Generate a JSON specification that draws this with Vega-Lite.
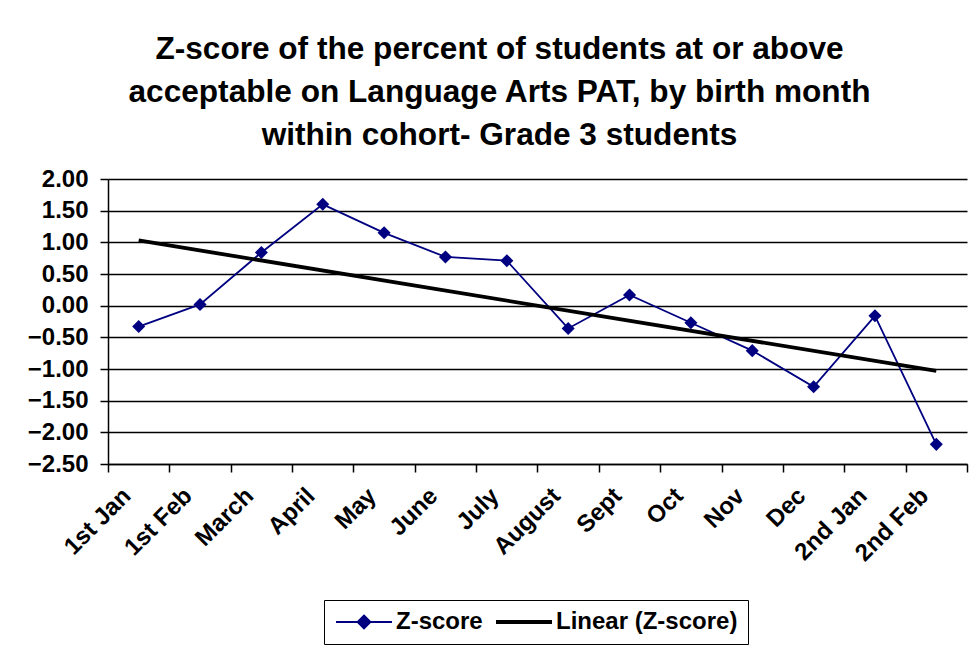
{
  "$schema": "https://vega.github.io/schema/vega-lite/v6.json",
  "width": 859,
  "height": 285,
  "autosize": "none",
  "padding": {"left": 108, "top": 179, "right": 7, "bottom": 182},
  "background": "white",
  "config": {
    "font": "Liberation Sans",
    "view": {"stroke": null},
    "axis": {"labelFont": "Liberation Sans", "labelFontWeight": "bold", "labelColor": "black", "domainColor": "black", "tickColor": "black", "gridColor": "black"}
  },
  "title": {
    "text": ["Z-score of the percent of students at or above", "acceptable on Language Arts PAT, by birth month", "within cohort- Grade 3 students"],
    "font": "Liberation Sans",
    "fontSize": 31.6,
    "fontWeight": "bold",
    "color": "black",
    "lineHeight": 43,
    "anchor": "middle",
    "frame": "group",
    "dx": -38,
    "offset": 15
  },
  "datasets": {
    "lines": [
      {"month": "1st Jan", "value": -0.33, "series": "Z-score"},
      {"month": "1st Feb", "value": 0.02, "series": "Z-score"},
      {"month": "March", "value": 0.84, "series": "Z-score"},
      {"month": "April", "value": 1.60, "series": "Z-score"},
      {"month": "May", "value": 1.15, "series": "Z-score"},
      {"month": "June", "value": 0.77, "series": "Z-score"},
      {"month": "July", "value": 0.71, "series": "Z-score"},
      {"month": "August", "value": -0.36, "series": "Z-score"},
      {"month": "Sept", "value": 0.17, "series": "Z-score"},
      {"month": "Oct", "value": -0.27, "series": "Z-score"},
      {"month": "Nov", "value": -0.71, "series": "Z-score"},
      {"month": "Dec", "value": -1.28, "series": "Z-score"},
      {"month": "2nd Jan", "value": -0.16, "series": "Z-score"},
      {"month": "2nd Feb", "value": -2.19, "series": "Z-score"},
      {"month": "1st Jan", "value": 1.03, "series": "Linear (Z-score)"},
      {"month": "2nd Feb", "value": -1.03, "series": "Linear (Z-score)"}
    ]
  },
  "data": {"name": "lines"},
  "encoding": {
    "x": {
      "field": "month",
      "type": "nominal",
      "sort": ["1st Jan", "1st Feb", "March", "April", "May", "June", "July", "August", "Sept", "Oct", "Nov", "Dec", "2nd Jan", "2nd Feb"],
      "scale": {"type": "band", "paddingInner": 0, "paddingOuter": 0},
      "axis": {
        "title": null,
        "labelAngle": -45,
        "labelAlign": "right",
        "labelBaseline": "middle",
        "labelFontSize": 24,
        "labelPadding": 20,
        "labelOffset": -12,
        "tickBand": "extent",
        "tickSize": 8,
        "tickWidth": 1.5,
        "domainWidth": 1.5,
        "grid": false
      }
    },
    "y": {
      "field": "value",
      "type": "quantitative",
      "scale": {"domain": [-2.5, 2], "nice": false, "zero": false},
      "axis": {
        "title": null,
        "values": [-2.5, -2, -1.5, -1, -0.5, 0, 0.5, 1, 1.5, 2],
        "format": ".2f",
        "labelFontSize": 24,
        "labelPadding": 12,
        "tickSize": 8,
        "tickWidth": 1.5,
        "domainWidth": 1.5,
        "grid": true,
        "gridWidth": 1.5,
        "gridOpacity": 1
      }
    }
  },
  "layer": [
    {
      "mark": {"type": "line"},
      "encoding": {
        "color": {
          "field": "series",
          "type": "nominal",
          "scale": {"domain": ["Z-score", "Linear (Z-score)"], "range": ["#000080", "#000000"]},
          "legend": {
            "title": null,
            "orient": "none",
            "legendX": 216,
            "legendY": 421,
            "direction": "horizontal",
            "strokeColor": "black",
            "padding": 10,
            "labelFont": "Liberation Sans",
            "labelFontSize": 24,
            "labelFontWeight": "bold",
            "labelColor": "black",
            "labelLimit": 400,
            "labelOffset": 38,
            "columnPadding": 5,
            "symbolSize": 400,
            "symbolStrokeWidth": 2.5,
            "encode": {
              "symbols": {
                "update": {
                  "shape": {"signal": "datum.value === 'Z-score' ? 'M-1,0L4.6,0M1.8,-0.65L2.45,0L1.8,0.65L1.15,0Z' : 'M-1,0L4.6,0'"},
                  "fill": {"signal": "datum.value === 'Z-score' ? '#000080' : 'transparent'"}
                }
              }
            }
          }
        },
        "strokeWidth": {
          "field": "series",
          "type": "nominal",
          "scale": {"domain": ["Z-score", "Linear (Z-score)"], "range": [1.8, 3.8]},
          "legend": null
        }
      }
    },
    {
      "transform": [{"filter": "datum.series === 'Z-score'"}],
      "mark": {"type": "point", "shape": "diamond", "filled": true, "color": "#000080", "size": 170, "opacity": 1}
    }
  ]
}
